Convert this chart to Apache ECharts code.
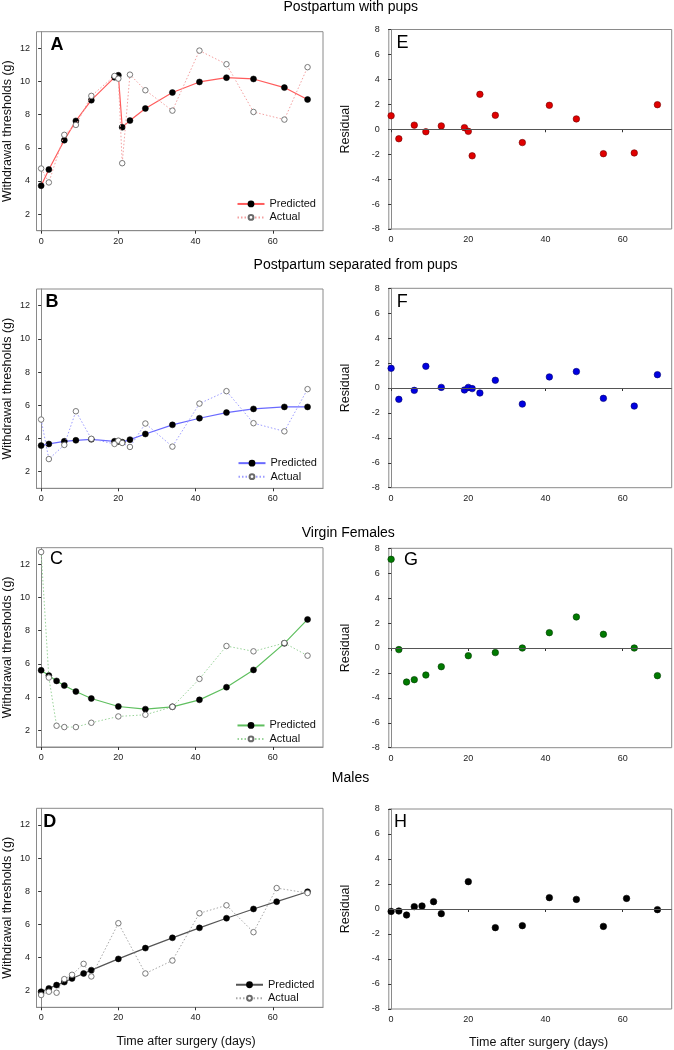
<!DOCTYPE html>
<html><head><meta charset="utf-8">
<script src="https://cdn.jsdelivr.net/npm/echarts@6/dist/echarts.min.js"></script>
<style>html,body{margin:0;padding:0;background:#fff}#c{width:674px;height:1050px}</style>
</head><body><div id="c"></div>
<script>
// ---- data ----
const daysPups = [0,2,6,9,13,19,20,21,23,27,34,41,48,55,63,69];
const predPups = [3.71,4.69,6.46,7.62,8.87,10.25,10.37,7.24,7.64,8.37,9.33,9.97,10.23,10.15,9.63,8.91];
const actualPups = [4.75,3.91,6.78,7.38,9.13,10.33,10.17,5.07,10.41,9.47,8.24,11.86,11.04,8.16,7.70,10.86];
const residPups = [1.08,-0.76,0.33,-0.2,0.27,0.13,-0.17,-2.13,2.8,1.12,-1.07,1.92,0.83,-1.96,-1.9,1.97];

const daysSep = [0,2,6,9,13,19,20,21,23,27,34,41,48,55,63,69];
const predSep = [3.57,3.67,3.83,3.89,3.95,3.83,3.82,3.78,3.93,4.27,4.82,5.22,5.56,5.78,5.90,5.90];
const actualSep = [5.14,2.76,3.61,5.64,3.98,3.67,3.87,3.73,3.49,4.90,3.51,6.10,6.85,4.92,4.43,6.97];
const residSep = [1.58,-0.91,-0.19,1.74,0.05,-0.16,0.05,-0.05,-0.40,0.62,-1.29,0.89,1.32,-0.83,-1.45,1.07];

const daysVirgin = [0,2,4,6,9,13,20,27,34,41,48,55,63,69];
const predVirgin = [5.62,5.30,4.98,4.70,4.34,3.92,3.44,3.28,3.42,3.84,4.60,5.64,7.24,8.68];
const actualVirgin = [12.74,5.18,2.28,2.20,2.20,2.46,2.84,2.94,3.42,5.10,7.08,6.76,7.26,6.50];
const residVirgin = [7.12,-0.13,-2.73,-2.54,-2.17,-1.5,-0.62,-0.37,0.0,1.23,2.49,1.10,0.0,-2.22];

const daysMales = [0,2,4,6,8,11,13,20,27,34,41,48,55,61,69];
const predMales = [1.94,2.14,2.34,2.52,2.74,3.04,3.24,3.92,4.57,5.19,5.79,6.37,6.93,7.37,7.97];
const actualMales = [1.74,1.94,1.88,2.70,2.96,3.62,2.86,6.07,3.04,3.82,6.67,7.15,5.53,8.19,7.89];
const residMales = [-0.19,-0.16,-0.48,0.19,0.24,0.59,-0.37,2.19,-1.49,-1.33,0.91,0.77,-1.39,0.85,-0.05];

const xTicks = [0,20,40,60];
const yTicksLeft = [2,4,6,8,10,12];
const groupTitles = ['Postpartum with pups','Postpartum separated from pups','Virgin Females','Males'];
const leftLetters = ['A','B','C','D'];
const rightLetters = ['E','F','G','H'];
const legendNames = ['Predicted','Actual'];
const yTitleLeft = 'Withdrawal thresholds (g)';
const yTitleRight = 'Residual';
const xTitle = 'Time after surgery (days)';

const groups = [
  {days: daysPups, pred: predPups, act: actualPups, res: residPups},
  {days: daysSep, pred: predSep, act: actualSep, res: residSep},
  {days: daysVirgin, pred: predVirgin, act: actualVirgin, res: residVirgin},
  {days: daysMales, pred: predMales, act: actualMales, res: residMales}
];

// ---- styles / layout ----
const FONT = 'Liberation Sans, Arial, sans-serif';
const predLine = ['#ff5c5c','#6a6aff','#5fbf5f','#555555'];
const actLine = ['#f4a0a0','#9c9cff','#9ad49a','#a8a8a8'];
const resColor = ['#e00000','#0000e0','#007a00','#000000'];
const resBorder = ['#700000','#000070','#003800','#000000'];
const leftGrids = [
  {left:36, top:31.7, width:287, height:199},
  {left:36, top:289, width:287, height:199.3},
  {left:36, top:547.7, width:287, height:199.3},
  {left:36, top:808.3, width:287, height:199}
];
const rightGrids = [
  {left:388.8, top:29.5, width:282.9, height:199.5},
  {left:388.8, top:288.3, width:282.9, height:199.4},
  {left:388.8, top:548.3, width:282.9, height:199.4},
  {left:388.8, top:809, width:282.9, height:200}
];
const legendPos = [
  {left:236.5, top:197.2},
  {left:237.5, top:456.4},
  {left:236.5, top:718.7},
  {left:235, top:978}
];
const titlePos = [{x:350.8,y:7},{x:355.5,y:265.5},{x:348.3,y:533},{x:350.5,y:778.5}];
const leftLetterPos = [{x:50.5,y:45.5},{x:45.5,y:301.7},{x:50,y:559.2},{x:43.3,y:821.7}];
const rightLetterPos = [{x:396.5,y:43.3},{x:396.7,y:302.3},{x:404,y:560},{x:394,y:821.7}];

const frame = '#8a8a8a';
const tickCol = '#333';

const grid = [], xAxis = [], yAxis = [], series = [], legend = [], graphic = [];

function axisCommon() {
  return {
    axisLine: {show: true, lineStyle: {color: frame, width: 1}},
    axisTick: {show: true, inside: false, length: 3, lineStyle: {color: tickCol, width: 1}},
    splitLine: {show: false},
    axisLabel: {fontFamily: FONT, fontSize: 9, color: '#222'}
  };
}

groups.forEach((g, i) => {
  // left grid
  const gl = Object.assign({show: true, borderColor: frame, borderWidth: 1, containLabel: false}, leftGrids[i]);
  grid.push(gl);
  const li = grid.length - 1;
  const xa = axisCommon();
  Object.assign(xa, {type: 'value', gridIndex: li, min: -1.2, max: 73});
  xa.axisTick.customValues = xTicks;
  xa.axisLabel.customValues = xTicks;
  xa.axisLabel.margin = 6;
  xAxis.push(xa);
  const ya = axisCommon();
  Object.assign(ya, {type: 'value', gridIndex: li, min: 1, max: 13,
    name: yTitleLeft, nameLocation: 'middle', nameGap: 22.5,
    nameTextStyle: {fontFamily: FONT, fontSize: 12.5, color: '#111'}});
  ya.axisTick.customValues = yTicksLeft;
  ya.axisLabel.customValues = yTicksLeft;
  ya.axisLabel.margin = 6.5;
  yAxis.push(ya);

  const pName = leftLetters[i] + '|' + legendNames[0];
  const aName = leftLetters[i] + '|' + legendNames[1];
  series.push({
    type: 'line', name: pName, xAxisIndex: li, yAxisIndex: li,
    data: g.days.map((d, k) => [d, g.pred[k]]),
    symbol: 'circle', symbolSize: 6, showSymbol: true,
    lineStyle: {color: predLine[i], width: 1.2, type: 'solid'},
    itemStyle: {color: '#000', borderColor: '#000', borderWidth: 0.5},
    emphasis: {disabled: true}, animation: false, z: 2
  });
  series.push({
    type: 'line', name: aName, xAxisIndex: li, yAxisIndex: li,
    data: g.days.map((d, k) => [d, g.act[k]]),
    symbol: 'circle', symbolSize: 5.5, showSymbol: true,
    lineStyle: {color: actLine[i], width: 1, type: [1.5, 2]},
    itemStyle: {color: '#fff', borderColor: '#6a6a6a', borderWidth: 0.9},
    emphasis: {disabled: true}, animation: false, z: 3
  });
  legend.push(Object.assign({
    orient: 'vertical', padding: 0, itemGap: 0, itemWidth: 27, itemHeight: 6,
    selectedMode: false, data: [pName, aName],
    formatter: n => n.split('|')[1],
    textStyle: {fontFamily: FONT, fontSize: 11, color: '#111', lineHeight: 13.5}
  }, legendPos[i]));

  // right grid
  grid.push(Object.assign({show: true, borderColor: frame, borderWidth: 1, containLabel: false}, rightGrids[i]));
  const ri = grid.length - 1;
  const xr = axisCommon();
  Object.assign(xr, {type: 'value', gridIndex: ri, min: -0.6, max: 72.7});
  xr.axisTick.customValues = xTicks;
  xr.axisLabel.customValues = xTicks;
  xr.axisLabel.margin = 6.5;
  xAxis.push(xr);
  const yr = axisCommon();
  Object.assign(yr, {type: 'value', gridIndex: ri, min: -8, max: 8, interval: 2,
    name: yTitleRight, nameLocation: 'middle', nameGap: 37,
    nameTextStyle: {fontFamily: FONT, fontSize: 12.5, color: '#111'}});
  yr.axisLabel.margin = 9;
  yAxis.push(yr);
  series.push({
    type: 'scatter', name: rightLetters[i] + '|Residual', xAxisIndex: ri, yAxisIndex: ri,
    data: g.days.map((d, k) => [d, g.res[k]]),
    symbol: 'circle', symbolSize: 6.5,
    itemStyle: {color: resColor[i], borderColor: resBorder[i], borderWidth: 0.6, opacity: 1},
    emphasis: {disabled: true}, animation: false,
    markLine: {silent: true, symbol: 'none', animation: false,
      label: {show: false},
      lineStyle: {color: '#555', width: 1, type: 'solid'},
      emphasis: {disabled: true},
      data: [{yAxis: 0}]}
  });

  // titles and letters
  graphic.push({type: 'text', x: titlePos[i].x, y: titlePos[i].y,
    style: {text: groupTitles[i], font: '14px ' + FONT, fill: '#000', textAlign: 'center', textVerticalAlign: 'middle'}});
  graphic.push({type: 'text', x: leftLetterPos[i].x, y: leftLetterPos[i].y,
    style: {text: leftLetters[i], font: (i === 2 ? '' : 'bold ') + '18px ' + FONT, fill: '#000', textAlign: 'left', textVerticalAlign: 'middle'}});
  graphic.push({type: 'text', x: rightLetterPos[i].x, y: rightLetterPos[i].y,
    style: {text: rightLetters[i], font: '18px ' + FONT, fill: '#000', textAlign: 'left', textVerticalAlign: 'middle'}});
});

graphic.push({type: 'text', x: 186, y: 1042, style: {text: xTitle, font: '12.5px ' + FONT, fill: '#111', textAlign: 'center', textVerticalAlign: 'middle'}});
graphic.push({type: 'text', x: 538.7, y: 1042.5, style: {text: xTitle, font: '12.5px ' + FONT, fill: '#111', textAlign: 'center', textVerticalAlign: 'middle'}});

const chart = echarts.init(document.getElementById('c'), null, {renderer: 'canvas'});
chart.setOption({
  backgroundColor: '#fff',
  animation: false,
  grid, xAxis, yAxis, series, legend, graphic
});
</script>
</body></html>
